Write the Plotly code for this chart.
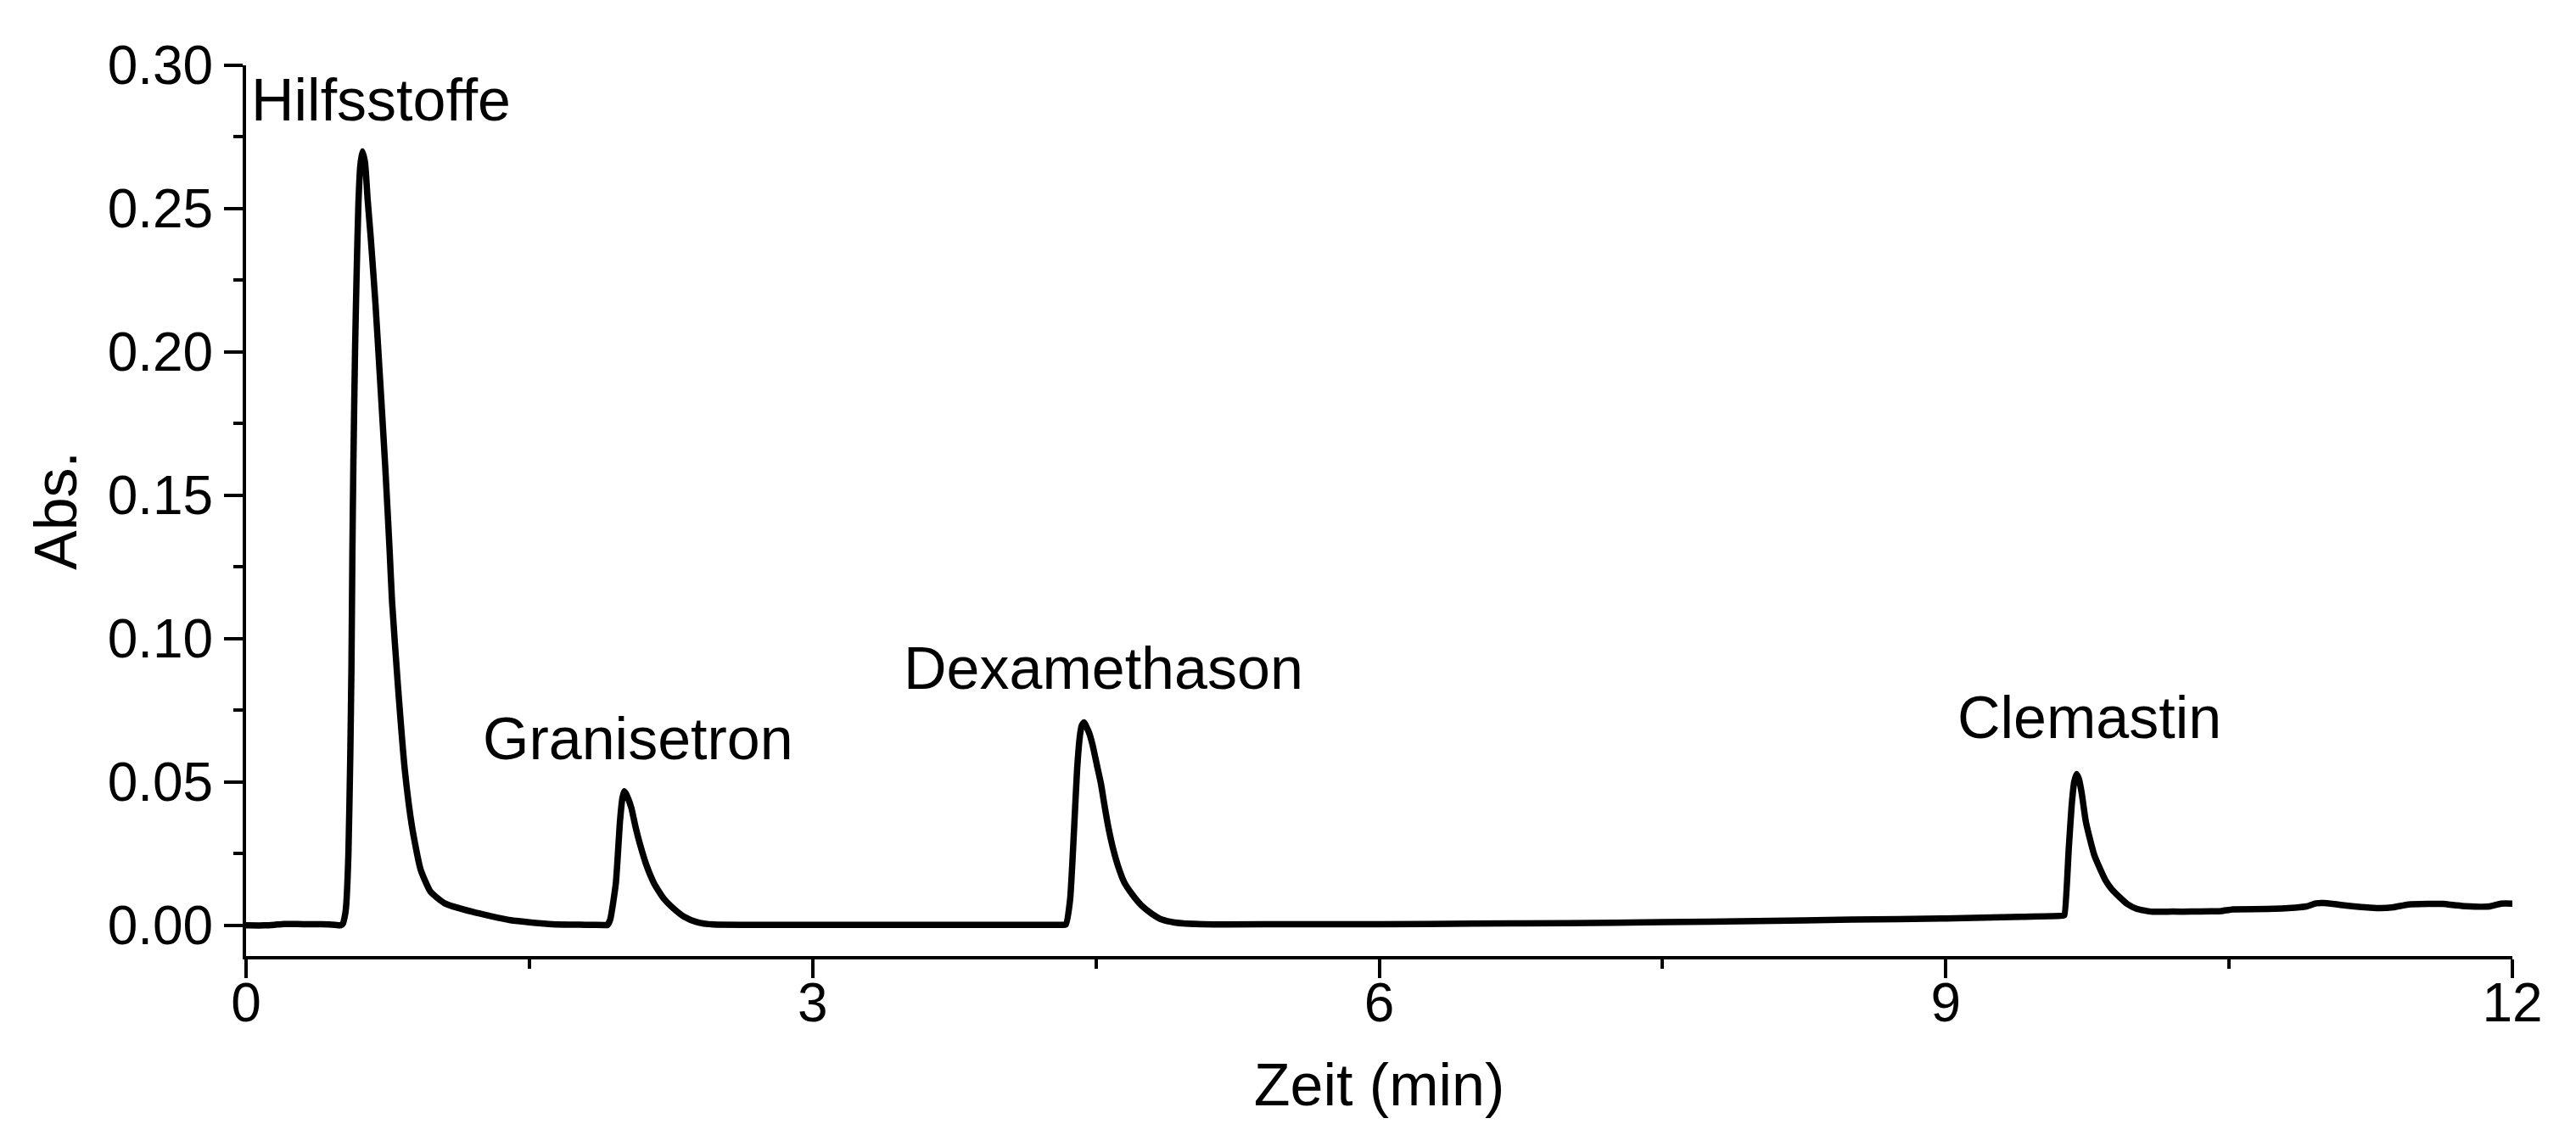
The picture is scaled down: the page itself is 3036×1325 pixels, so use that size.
import plotly.graph_objects as go

# Chromatogram (time in min, absorbance)
time_min = [
    0.00, 0.10, 0.15, 0.20, 0.30, 0.40, 0.47, 0.50,
    0.512, 0.525, 0.530, 0.542, 0.552, 0.558, 0.563, 0.568, 0.577, 0.585, 0.595, 0.605, 0.616,
    0.630, 0.644, 0.660, 0.685, 0.710, 0.737, 0.760, 0.773, 0.804, 0.841, 0.879, 0.924, 0.976,
    1.052, 1.20, 1.40, 1.62, 1.80, 1.90,
    1.913, 1.928, 1.958, 1.980, 1.993, 2.003, 2.015, 2.040, 2.060, 2.085, 2.120, 2.160, 2.210,
    2.265, 2.320, 2.385, 2.475, 2.70, 3.00, 3.50, 4.00, 4.30,
    4.340, 4.363, 4.385, 4.400, 4.415, 4.425, 4.437, 4.450, 4.465, 4.482, 4.505, 4.527, 4.545,
    4.565, 4.590, 4.617, 4.650, 4.692, 4.740, 4.797, 4.850, 4.917, 5.065, 5.50, 6.00, 6.50,
    7.00, 7.50, 8.00, 8.50, 9.00, 9.40, 9.620,
    9.628, 9.651, 9.666, 9.680, 9.693, 9.705, 9.720, 9.741, 9.760, 9.786, 9.815, 9.846, 9.880,
    9.921, 9.960, 10.010, 10.085, 10.20, 10.30, 10.40, 10.46, 10.52, 10.70, 10.85, 10.91,
    10.96, 11.00, 11.06, 11.12, 11.20, 11.30, 11.37, 11.45, 11.55, 11.63, 11.70, 11.75, 11.88,
    11.94, 12.00,
]
absorbance = [
    0.0000, 0.0000, 0.0002, 0.0005, 0.0004, 0.0004, 0.0002, 0.0000,
    0.0005, 0.0040, 0.0068, 0.0250, 0.0600, 0.0900, 0.1300, 0.1600, 0.2000, 0.2260, 0.2520, 0.2650, 0.2700,
    0.2660, 0.2530, 0.2400, 0.2170, 0.1900, 0.1600, 0.1310, 0.1130, 0.0837, 0.0540, 0.0343, 0.0195, 0.0118,
    0.0077, 0.0047, 0.0018, 0.0004, 0.0002, 0.0001,
    0.0001, 0.0020, 0.0147, 0.0364, 0.0445, 0.0468, 0.0455, 0.0410, 0.0350, 0.0285, 0.0210, 0.0147, 0.0095,
    0.0058, 0.0030, 0.0012, 0.0003, 0.0002, 0.0002, 0.0002, 0.0002, 0.0002,
    0.0003, 0.0088, 0.0345, 0.0540, 0.0660, 0.0697, 0.0708, 0.0692, 0.0670, 0.0630, 0.0560, 0.0493, 0.0420,
    0.0345, 0.0270, 0.0207, 0.0150, 0.0108, 0.0070, 0.0040, 0.0020, 0.0010, 0.0004, 0.0004, 0.0004, 0.0006,
    0.0008, 0.0011, 0.0015, 0.0020, 0.0024, 0.0030, 0.0034,
    0.0036, 0.0266, 0.0414, 0.0500, 0.0528, 0.0510, 0.0460, 0.0364, 0.0310, 0.0246, 0.0200, 0.0157, 0.0125,
    0.0098, 0.0075, 0.0058, 0.0048, 0.0048, 0.0048, 0.0049, 0.0050, 0.0056, 0.0057, 0.0062, 0.0066,
    0.0077, 0.0078, 0.0074, 0.0069, 0.0064, 0.0060, 0.0063, 0.0073, 0.0075, 0.0075, 0.0070, 0.0067, 0.0066,
    0.0076, 0.0076,
]

peak_labels = ["Hilfsstoffe", "Granisetron", "Dexamethason", "Clemastin"]
label_x = [0.715, 2.077, 4.542, 9.762]
label_y = [0.288, 0.065, 0.0895, 0.0725]

x_title = "Zeit (min)"
y_title = "Abs."

FONT = "Liberation Sans, Arial, Helvetica, sans-serif"

fig = go.Figure()
fig.add_trace(go.Scatter(
    x=time_min, y=absorbance, mode="lines",
    line=dict(color="black", width=7.5, shape="spline", smoothing=0.5),
    showlegend=False, hoverinfo="skip",
))

for txt, xx, yy in zip(peak_labels, label_x, label_y):
    fig.add_annotation(x=xx, y=yy, text=txt, showarrow=False,
                       xanchor="center", yanchor="middle",
                       font=dict(family=FONT, size=70, color="black"))

axis_common = dict(
    showgrid=False, zeroline=False, showline=True, linecolor="black", linewidth=4,
    ticks="outside", ticklen=22, tickwidth=4, tickcolor="black",
    tickfont=dict(family=FONT, size=64, color="black"),
    mirror=False,
)

fig.update_xaxes(
    range=[0, 12], tick0=0, dtick=3,
    minor=dict(dtick=1.5, ticks="outside", ticklen=11, tickwidth=4, tickcolor="black"),
    title=dict(text=x_title, font=dict(family=FONT, size=70, color="black"), standoff=38),
    ticklabelstandoff=-26,
    **axis_common,
)
fig.update_yaxes(
    range=[-0.0107, 0.30], tick0=0, dtick=0.05, tickformat=".2f",
    minor=dict(dtick=0.025, ticks="outside", ticklen=11, tickwidth=4, tickcolor="black"),
    title=dict(text=y_title, font=dict(family=FONT, size=70, color="black"), standoff=14),
    **axis_common,
)

fig.update_layout(
    width=3036, height=1325,
    margin=dict(l=282, r=83, t=69, b=206),
    paper_bgcolor="white", plot_bgcolor="white",
    font=dict(family=FONT, color="black"),
)

fig.write_html("out.html")
